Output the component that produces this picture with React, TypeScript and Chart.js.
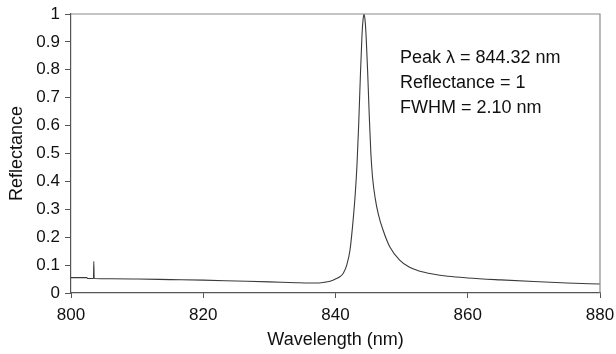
import React, { useEffect, useRef } from "react";
import { Chart, registerables } from "chart.js";

Chart.register(...registerables);

const wavelengths = [
  800, 802.4, 802.5, 803.4, 803.45, 803.5, 806, 810, 815, 820, 825, 830, 834,
  836, 837.5, 838.5, 839.3, 840, 840.7, 841.2, 841.7, 842.2, 842.7, 843.0, 843.25, 843.5,
  843.75, 844.0, 844.15, 844.32, 844.5, 844.65, 844.85, 845.1, 845.35, 845.6, 846.0, 846.5,
  847.2, 848.2, 849.7, 851.2, 852.5, 854.7, 857, 860, 865, 870, 875, 880,
];
const reflectance = [
  0.055, 0.055, 0.052, 0.052, 0.113, 0.052, 0.051, 0.05, 0.048, 0.046, 0.043,
  0.04, 0.037, 0.036, 0.036, 0.039, 0.043, 0.05, 0.059, 0.072, 0.1, 0.155, 0.27,
  0.36, 0.46, 0.6, 0.77, 0.92, 0.975, 1.0, 0.97, 0.91, 0.8, 0.64, 0.5, 0.415, 0.34, 0.28,
  0.225, 0.166, 0.118, 0.092, 0.08, 0.068, 0.06, 0.054, 0.047, 0.041, 0.036,
  0.032,
];
const xTickLabels = ["800", "820", "840", "860", "880"];
const yTickLabels = ["0", "0.1", "0.2", "0.3", "0.4", "0.5", "0.6", "0.7", "0.8", "0.9", "1"];
const annotationLines = ["Peak \u03bb = 844.32 nm", "Reflectance = 1", "FWHM = 2.10 nm"];

const FONT = "Liberation Sans, Arial, Helvetica, sans-serif";

export default function App() {
  const ref = useRef<HTMLCanvasElement | null>(null);
  useEffect(() => {
    document.body.style.margin = "0";
    const canvas = ref.current;
    if (!canvas) return;
    const data = wavelengths.map((x, i) => ({ x, y: reflectance[i] }));
    const frame = {
      id: "frame",
      afterDatasetsDraw(chart: any) {
        const { ctx, chartArea } = chart;
        ctx.save();
        ctx.strokeStyle = "#8a8a8a";
        ctx.lineWidth = 1.2;
        ctx.beginPath();
        ctx.moveTo(chartArea.left, chartArea.top);
        ctx.lineTo(chartArea.right, chartArea.top);
        ctx.lineTo(chartArea.right, chartArea.bottom);
        ctx.stroke();
        ctx.fillStyle = "#111";
        ctx.font = `18px ${FONT}`;
        ctx.textBaseline = "middle";
        ctx.textAlign = "left";
        annotationLines.forEach((t, i) => {
          ctx.fillText(t, 400, 58 + i * 25);
        });
        ctx.restore();
      },
    };
    const zeroPad = (s: any) => {
      s.paddingLeft = 0;
      s.paddingRight = 0;
      s.paddingTop = 0;
      s.paddingBottom = 0;
    };
    const chart = new Chart(canvas, {
      type: "line",
      data: {
        datasets: [
          {
            data,
            borderColor: "#3a3a3a",
            borderWidth: 1.1,
            pointRadius: 0,
            cubicInterpolationMode: "monotone",
            fill: false,
          },
        ],
      },
      options: {
        animation: false,
        responsive: false,
        maintainAspectRatio: false,
        layout: { padding: { left: 0, right: 16, top: 14, bottom: 0 } },
        plugins: { legend: { display: false }, tooltip: { enabled: false } },
        scales: {
          x: {
            type: "linear",
            min: 800,
            max: 880,
            afterFit: (s: any) => {
              s.height = 61;
              zeroPad(s);
            },
            afterBuildTicks: (s: any) => {
              s.ticks = xTickLabels.map((l) => ({ value: Number(l) }));
            },
            ticks: {
              callback: (v: any) => xTickLabels.find((l) => Number(l) === v) ?? "",
              color: "#111",
              font: { size: 17, family: FONT },
              padding: 7,
              maxRotation: 0,
            },
            grid: { drawOnChartArea: false, tickLength: 5, color: "#555", tickColor: "#555" },
            border: { color: "#555", width: 1.2 },
            title: {
              display: true,
              text: "Wavelength (nm)",
              color: "#111",
              font: { size: 18, family: FONT },
              padding: { top: 0, bottom: 3 },
            },
          },
          y: {
            type: "linear",
            min: 0,
            max: 1,
            afterFit: (s: any) => {
              s.width = 71;
              zeroPad(s);
            },
            afterBuildTicks: (s: any) => {
              s.ticks = yTickLabels.map((l) => ({ value: Number(l) }));
            },
            ticks: {
              callback: (_v: any, i: number) => yTickLabels[i],
              color: "#111",
              font: { size: 17, family: FONT },
              padding: 5,
            },
            grid: { drawOnChartArea: false, tickLength: 6, color: "#555", tickColor: "#555" },
            border: { color: "#555", width: 1.2 },
            title: {
              display: true,
              text: "Reflectance",
              color: "#111",
              font: { size: 18, family: FONT },
              padding: { top: 6, bottom: 0 },
            },
          },
        },
      },
      plugins: [frame],
    });
    return () => chart.destroy();
  }, []);
  return (
    <div style={{ position: "relative", width: 616, height: 354 }}>
      <canvas ref={ref} width={616} height={354} style={{ display: "block" }} />
    </div>
  );
}
